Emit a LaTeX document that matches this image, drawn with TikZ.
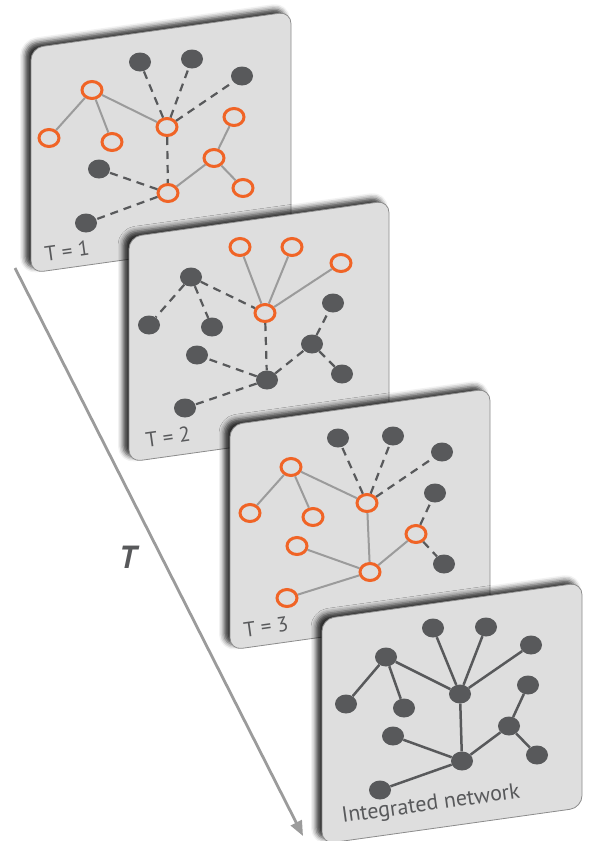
\documentclass[tikz,border=0pt]{standalone}
\usepackage{fontspec}
\setmainfont{PT Sans}
\usetikzlibrary{shapes.geometric,shadows.blur,arrows.meta}

\definecolor{netorange}{RGB}{240,100,38}
\definecolor{netdark}{RGB}{88,89,91}
\definecolor{netgray}{RGB}{155,155,155}
\definecolor{panelgray}{RGB}{222,222,222}

% one slanted card, top left corner at (#1,#2) in pixels
\newcommand{\drawpanel}[2]{%
  \begin{scope}[shift={(#1,-#2)}, yslant=0.14]
    \path[panel_style] (0,0) rectangle (260,-225);
  \end{scope}}

\begin{document}
\begin{tikzpicture}[x=1pt, y=1pt,
    panel_style/.style={fill=panelgray, draw=black!45, line width=0.8pt, rounded corners=12pt,
      blur shadow={shadow xshift=-6pt, shadow yshift=4pt, shadow blur radius=5pt, shadow opacity=80}},
    dot_style/.style={ellipse, fill=netdark, minimum width=22pt, minimum height=19pt, inner sep=0pt},
    ring_style/.style={ellipse, draw=netorange, fill=panelgray, line width=3pt, minimum width=20pt, minimum height=17pt, inner sep=0pt},
    solid_edge/.style={draw=netgray, line width=2pt},
    dash_edge/.style={draw=netdark, line width=2.2pt, dash pattern=on 8pt off 6pt},
    net_edge/.style={draw=netdark, line width=2.5pt},
    label_style/.style={text=netdark, font=\fontsize{21}{21}\selectfont, rotate=8},
    time_arrow/.style={draw=netgray, line width=2.8pt, -{Triangle[length=15pt, width=12pt]}}]

	\useasboundingbox (0,0) rectangle (589,-841);

	% time axis
	\coordinate (tstart) at (15,-268);
	\coordinate (tend) at (303,-836);
	\draw[time_arrow] (tstart) -- (tend);
	\node[text=netdark, font=\fontsize{32}{32}\selectfont\bfseries\itshape] (tlab) at (128,-557) {T};

	% T = 1
	\drawpanel{31}{48}
	\node[dot_style] (a1) at (140,-62) {};
	\node[dot_style] (a2) at (192,-59) {};
	\node[dot_style] (a3) at (242,-76) {};
	\node[dot_style] (a4) at (99,-169) {};
	\node[dot_style] (a5) at (86,-223) {};
	\node[ring_style] (a6) at (92,-90) {};
	\node[ring_style] (a7) at (49,-138) {};
	\node[ring_style] (a8) at (112,-142) {};
	\node[ring_style] (a9) at (167,-127) {};
	\node[ring_style] (a10) at (234,-117) {};
	\node[ring_style] (a11) at (214,-158) {};
	\node[ring_style] (a12) at (243,-188) {};
	\node[ring_style] (a13) at (168,-193) {};
	\node[label_style] (l1) at (67,-251) {T = 1};

	\draw[solid_edge] (a6) edge (a7) (a6) edge (a8) (a6) edge (a9);
	\draw[solid_edge] (a13) edge (a11) (a11) edge (a10) (a11) edge (a12);
	\draw[dash_edge] (a9) edge (a1) (a9) edge (a2) (a9) edge (a3) (a9) edge (a13);
	\draw[dash_edge] (a13) edge (a4) (a13) edge (a5);

	% T = 2
	\drawpanel{129}{237}
	\node[ring_style] (b1) at (240,-247) {};
	\node[ring_style] (b2) at (292,-247) {};
	\node[ring_style] (b3) at (341,-263) {};
	\node[ring_style] (b4) at (265,-313) {};
	\node[dot_style] (b5) at (191,-277) {};
	\node[dot_style] (b6) at (149,-325) {};
	\node[dot_style] (b7) at (212,-327) {};
	\node[dot_style] (b8) at (197,-355) {};
	\node[dot_style] (b9) at (185,-408) {};
	\node[dot_style] (b10) at (267,-380) {};
	\node[dot_style] (b11) at (312,-344) {};
	\node[dot_style] (b12) at (333,-303) {};
	\node[dot_style] (b13) at (342,-374) {};
	\node[label_style] (l2) at (168,-437) {T = 2};

	\draw[solid_edge] (b4) edge (b1) (b4) edge (b2) (b4) edge (b3);
	\draw[dash_edge] (b5) edge (b6) (b5) edge (b7) (b5) edge (b4) (b4) edge (b10);
	\draw[dash_edge] (b10) edge (b8) (b10) edge (b9) (b10) edge (b11);
	\draw[dash_edge] (b11) edge (b12) (b11) edge (b13);

	% T = 3
	\drawpanel{230}{425}
	\node[dot_style] (c1) at (338,-438) {};
	\node[dot_style] (c2) at (393,-436) {};
	\node[dot_style] (c3) at (442,-452) {};
	\node[dot_style] (c4) at (435,-493) {};
	\node[dot_style] (c5) at (444,-564) {};
	\node[ring_style] (c6) at (291,-467) {};
	\node[ring_style] (c7) at (250,-513) {};
	\node[ring_style] (c8) at (313,-517) {};
	\node[ring_style] (c9) at (367,-503) {};
	\node[ring_style] (c10) at (416,-534) {};
	\node[ring_style] (c11) at (297,-546) {};
	\node[ring_style] (c12) at (370,-572) {};
	\node[ring_style] (c13) at (287,-598) {};
	\node[label_style] (l3) at (266,-627) {T = 3};

	\draw[solid_edge] (c6) edge (c7) (c6) edge (c8) (c6) edge (c9) (c9) edge (c12);
	\draw[solid_edge] (c12) edge (c11) (c12) edge (c13) (c12) edge (c10);
	\draw[dash_edge] (c9) edge (c1) (c9) edge (c2) (c9) edge (c3);
	\draw[dash_edge] (c10) edge (c4) (c10) edge (c5);

	% integrated network
	\drawpanel{322}{619}
	\node[dot_style] (n1) at (433,-628) {};
	\node[dot_style] (n2) at (486,-627) {};
	\node[dot_style] (n3) at (531,-645) {};
	\node[dot_style] (n4) at (386,-657) {};
	\node[dot_style] (n5) at (346,-704) {};
	\node[dot_style] (n6) at (404,-708) {};
	\node[dot_style] (n7) at (460,-694) {};
	\node[dot_style] (n8) at (528,-685) {};
	\node[dot_style] (n9) at (509,-726) {};
	\node[dot_style] (n10) at (537,-755) {};
	\node[dot_style] (n11) at (393,-736) {};
	\node[dot_style] (n12) at (462,-761) {};
	\node[dot_style] (n13) at (380,-790) {};
	\node[label_style, font=\fontsize{22}{22}\selectfont] (l4) at (431,-805) {Integrated network};

	\draw[net_edge] (n4) edge (n5) (n4) edge (n6) (n4) edge (n7);
	\draw[net_edge] (n7) edge (n1) (n7) edge (n2) (n7) edge (n3) (n7) edge (n12);
	\draw[net_edge] (n12) edge (n11) (n12) edge (n13) (n12) edge (n9);
	\draw[net_edge] (n9) edge (n8) (n9) edge (n10);
\end{tikzpicture}
\end{document}
